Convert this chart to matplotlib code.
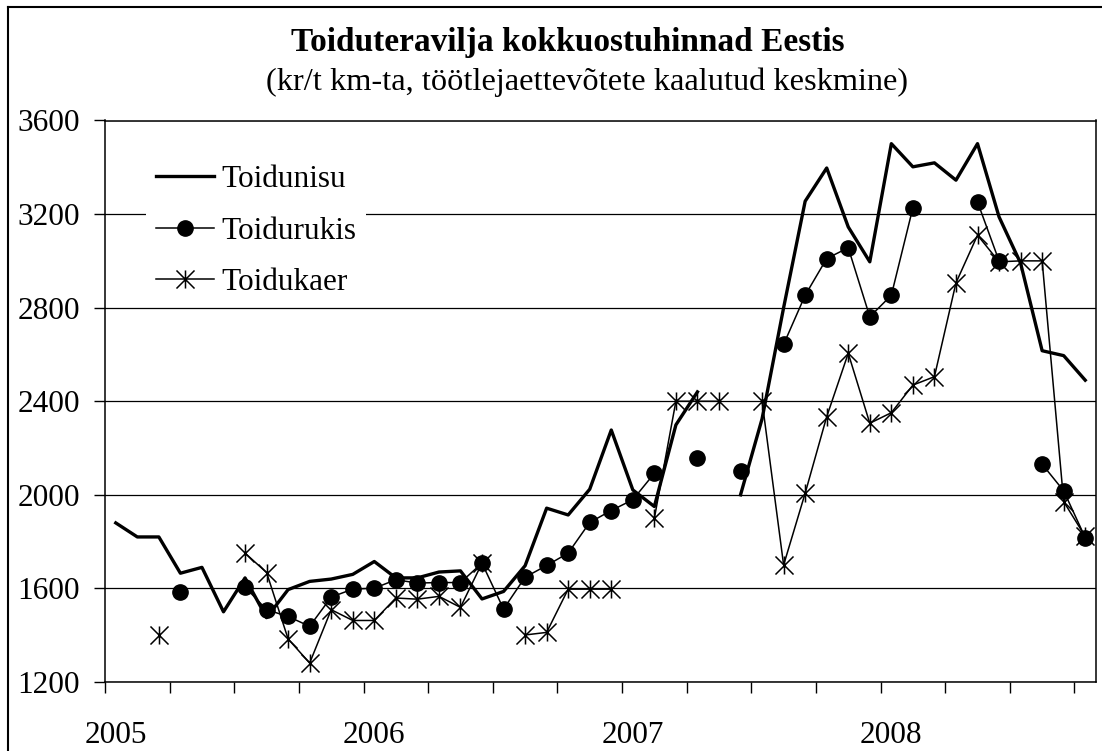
import numpy as np
import matplotlib
matplotlib.use("Agg")
import matplotlib.pyplot as plt
from matplotlib.path import Path
from matplotlib.lines import Line2D

plt.rcParams["font.family"] = ["Liberation Serif", "DejaVu Serif"]

# monthly data, Jan 2005 .. Oct 2008 (None = no value)
toidunisu = [1880, 1820, 1820, 1665, 1690, 1500, 1645, 1475, 1595, 1630, 1640, 1660,
             1715, 1645, 1645, 1670, 1675, 1555, 1587, 1697, 1943, 1914, 2024, 2277,
             2021, 1950, 2299, 2440, None, 2000, 2325, 2800, 3255, 3397, 3145, 2996,
             3501, 3402, 3419, 3345, 3501, 3188, 2990, 2616, 2595, 2490]
toidurukis = [None, None, None, 1583, None, None, 1606, 1509, 1480, 1438, 1563, 1597,
              1601, 1637, 1623, 1625, 1625, 1708, 1512, 1648, 1698, 1751, 1882, 1933,
              1979, 2092, None, 2157, None, 2104, None, 2643, 2853, 3010, 3056, 2761,
              2853, 3227, None, None, 3252, 3000, None, 2131, 2017, 1817]
toidukaer = [None, None, 1402, None, None, None, 1751, 1668, 1384, 1281, 1509, 1463,
             1463, 1559, 1554, 1566, 1519, 1708, None, 1401, 1412, 1597, 1597, 1597,
             None, 1900, 2400, 2400, 2400, None, 2400, 1700, 2007, 2334, 2605, 2306,
             2351, 2469, 2505, 2906, 3110, 2996, 3000, 3000, 1971, 1822]
years = ["2005", "2006", "2007", "2008"]

def arr(v):
    return np.array([np.nan if x is None else x for x in v], dtype=float)

months = np.arange(len(toidunisu))

star = Path([(0, -1), (0, 1), (-1, -1), (1, 1), (-1, 1), (1, -1)],
            [Path.MOVETO, Path.LINETO, Path.MOVETO, Path.LINETO, Path.MOVETO, Path.LINETO])

fig = plt.figure(figsize=(11.02, 7.51), dpi=100)
ax = fig.add_axes([105 / 1102, 1 - 682 / 751, 991 / 1102, 561.5 / 751])

ax.plot(months, arr(toidunisu), color="black", lw=2.4, label="Toidunisu")
ax.plot(months, arr(toidurukis), color="black", lw=1.1, marker="o", ms=11,
        label="Toidurukis")
ax.plot(months, arr(toidukaer), color="black", lw=1.1, marker=star, ms=13,
        mew=1.1, mfc="none", label="Toidukaer")

ax.set_xlim(-0.5, len(months) - 0.5)
ax.set_ylim(1200, 3600)
ax.set_yticks(np.arange(1200, 3601, 400))
ax.yaxis.grid(True, color="black", lw=0.9)
ax.set_axisbelow(True)
ax.tick_params(axis="y", direction="out", length=8, width=1, labelsize=22.5, pad=10)

ax.set_xticks(np.arange(-0.5, len(months) - 0.5, 3))
ax.set_xticklabels([])
ax.tick_params(axis="x", which="major", direction="out", length=8, width=1)
ax.set_xticks([0, 12, 24, 36], minor=True)
ax.set_xticklabels(years, minor=True)
ax.tick_params(axis="x", which="minor", length=0, labelsize=22.5, pad=28)

for s in ax.spines.values():
    s.set_linewidth(1.1)
    s.set_color("black")

leg = ax.legend(loc="upper left", bbox_to_anchor=(0.026, 0.965), fontsize=22.5,
                frameon=True, handlelength=1.85, handletextpad=0.25,
                labelspacing=0.72, borderpad=0.3, fancybox=False)
leg.get_frame().set_edgecolor("none")
leg.get_frame().set_facecolor("white")
leg.get_frame().set_alpha(1)

fig.text(0.515, 1 - 42 / 751, "Toiduteravilja kokkuostuhinnad Eestis", ha="center",
         va="center", fontsize=24, fontweight="bold")
fig.text(0.533, 1 - 82 / 751, "(kr/t km-ta, töötlejaettevõtete kaalutud keskmine)",
         ha="center", va="center", fontsize=23.3)

# outer chart frame (top and left edges visible)
fig.add_artist(Line2D([8 / 1102, 1], [1 - 7 / 751, 1 - 7 / 751], color="black", lw=1.5,
                      transform=fig.transFigure))
fig.add_artist(Line2D([8 / 1102, 8 / 1102], [0, 1 - 7 / 751], color="black", lw=1.5,
                      transform=fig.transFigure))

fig.savefig("out.png", dpi=100)
